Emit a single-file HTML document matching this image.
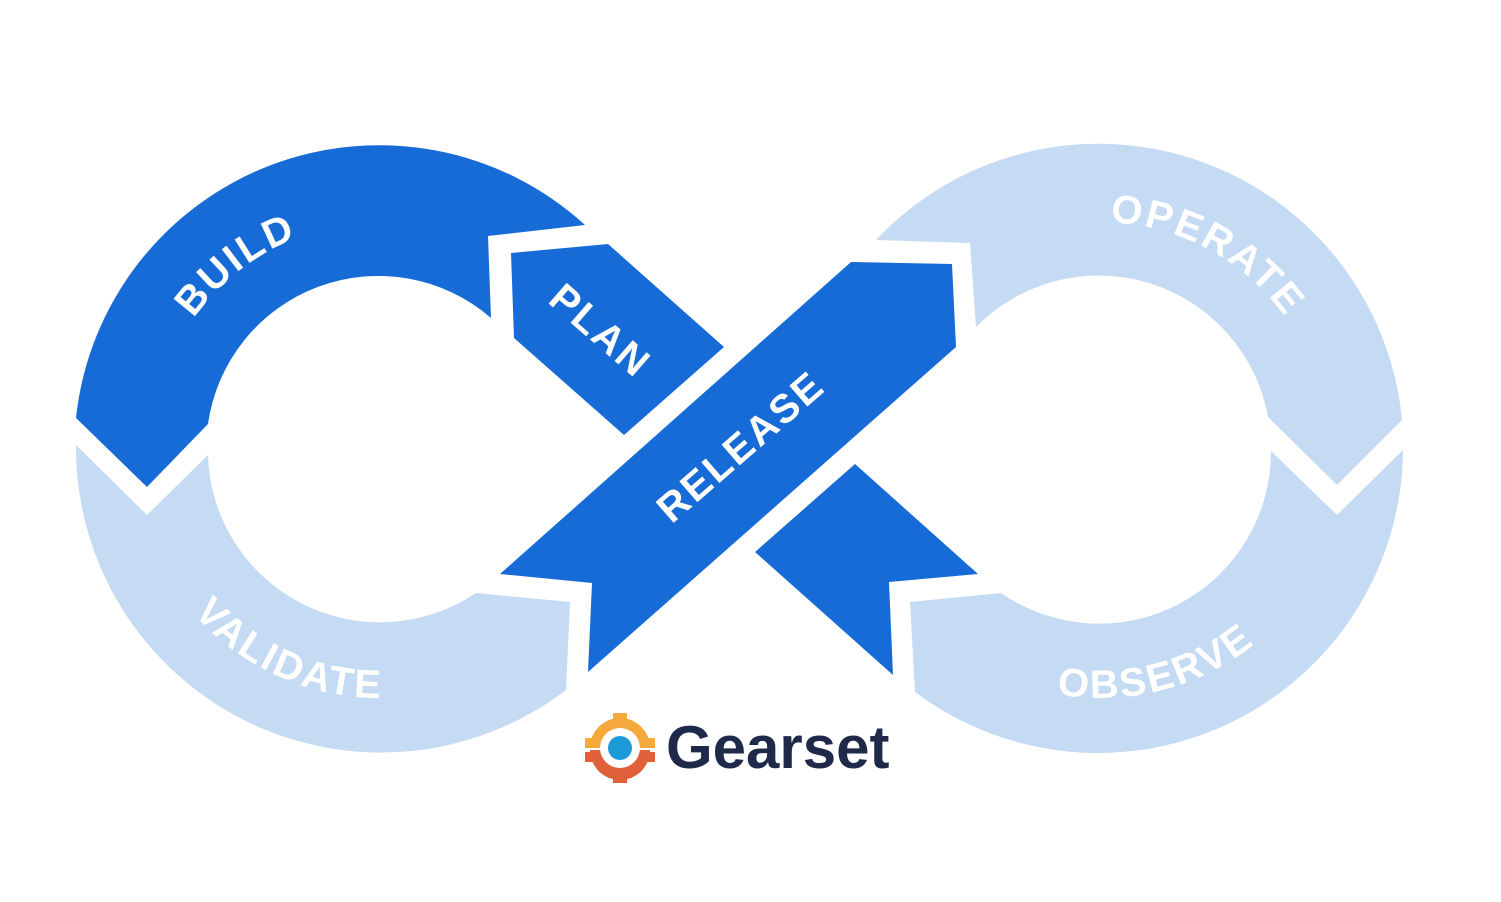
<!DOCTYPE html>
<html><head><style>
html,body{margin:0;padding:0;background:#fff;width:1501px;height:902px;overflow:hidden}
text{font-family:"Liberation Sans",sans-serif;font-weight:bold;fill:#fff}
</style></head><body>
<svg width="1501" height="902" viewBox="0 0 1501 902" xmlns="http://www.w3.org/2000/svg">
<defs>
<path id="pBuild" d="M152,450 A228 228 0 0 1 608,450"/>
<path id="pOper" d="M872,450 A228 228 0 0 1 1328,450"/>
<path id="pVal" d="M132,450 A248 248 0 0 0 628,450"/>
<path id="pObs" d="M852,450 A248 248 0 0 0 1348,450"/>
</defs>
<g fill="#c5daf3">
<path d="M76,445 L147,515 L208,455 A172 172 0 0 0 476,593 L570,602 L566,690 A305 305 0 0 1 76,445 Z"/>
<path d="M876,240 A305 305 0 0 1 1402,420 L1337,485 L1268,417 A172 172 0 0 0 976,327 L970,243 Z"/>
<path d="M1403,450 L1337,515 L1271,451 A172 172 0 0 1 1001,593 L910,602 L915,692 A305 305 0 0 0 1403,450 Z"/>
</g>
<g fill="#176bd6">
<path d="M76,418 A305 305 0 0 1 585,225 L488,236 L491,318 A172 172 0 0 0 208,424 L147,487 Z"/>
<polygon points="511,253 608,244 724,347 624,435 514,338"/>
<polygon points="851,262 952,264 956,347 588,672 592,583 500,574"/>
<polygon points="855,464 978,574 889,582 893,675 755,552"/>
</g>
<g font-size="40" letter-spacing="2.5">
<text><textPath href="#pBuild" startOffset="140">BUILD</textPath></text>
<text><textPath href="#pOper" startOffset="368">OPERATE</textPath></text>
<text><textPath href="#pVal" startOffset="178">VALIDATE</textPath></text>
<text><textPath href="#pObs" startOffset="346">OBSERVE</textPath></text>
<text transform="translate(600,331) rotate(41)" text-anchor="middle" dominant-baseline="central">PLAN</text>
<text transform="translate(741,447) rotate(-41)" text-anchor="middle" dominant-baseline="central">RELEASE</text>
</g>
<g transform="translate(620,748)">
<path d="M-30,0 A30 30 0 0 1 30,0 Z" fill="#f5a93b"/>
<path d="M-30,2 A30 30 0 0 0 30,2 Z" fill="#e0603a"/>
<rect x="-7" y="-35" width="14" height="10" fill="#f5a93b"/>
<rect x="-35" y="-10" width="10" height="10" fill="#f5a93b"/>
<rect x="25" y="-10" width="10" height="10" fill="#f5a93b"/>
<rect x="-35" y="4" width="10" height="10" fill="#e0603a"/>
<rect x="25" y="4" width="10" height="10" fill="#e0603a"/>
<rect x="-7" y="25" width="14" height="10" fill="#e0603a"/>
<circle r="20" fill="#fff"/>
<circle r="12" fill="#1a9ad6"/>
</g>
<text x="666" y="768" font-size="60" style="fill:#1f2a4a">Gearset</text>
</svg>
</body></html>
